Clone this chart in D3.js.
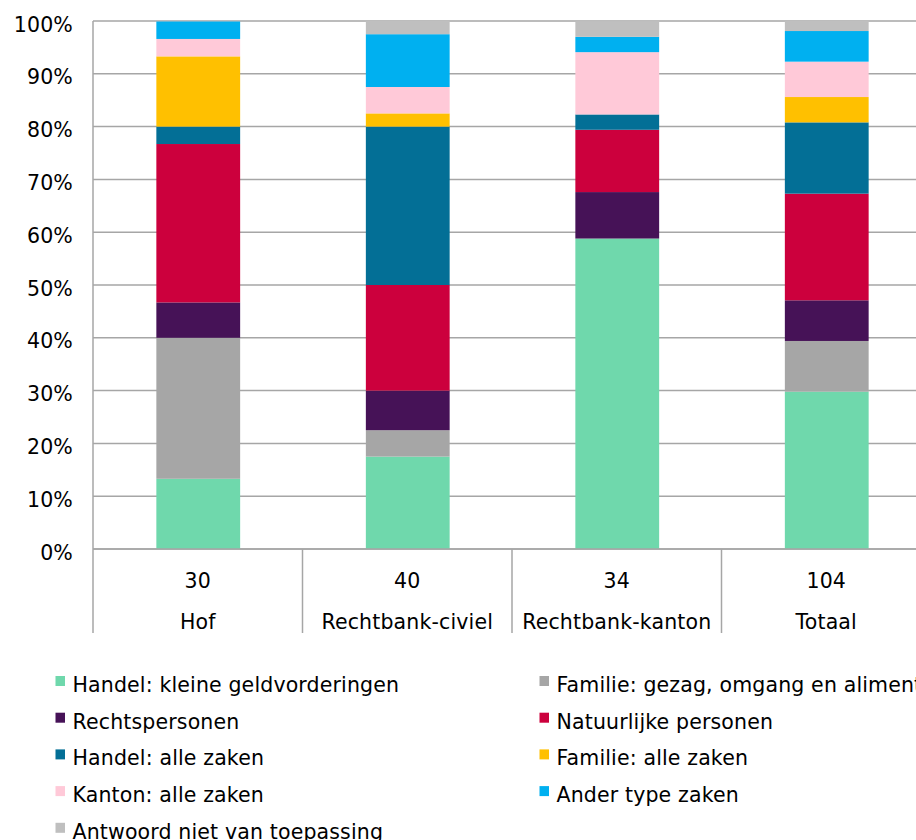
<!DOCTYPE html>
<html><head><meta charset="utf-8">
<script src="https://cdn.jsdelivr.net/npm/d3@7"></script>
<style>body{margin:0;background:#fff}svg{display:block}text{font-family:"DejaVu Sans",Verdana,sans-serif;fill:#000;letter-spacing:0.15px}</style>
</head><body><svg id="c" width="916" height="840"></svg>
<script>
const categories = ["Hof","Rechtbank-civiel","Rechtbank-kanton","Totaal"];
const counts = ["30","40","34","104"];
const seriesNames = ["Handel: kleine geldvorderingen","Familie: gezag, omgang en alimentatie","Rechtspersonen","Natuurlijke personen","Handel: alle zaken","Familie: alle zaken","Kanton: alle zaken","Ander type zaken","Antwoord niet van toepassing"];
const seriesColors = ["#6fd8ac","#a6a6a6","#461257","#cc003d","#036f96","#ffc000","#ffc9d8","#00b0f0","#bfbfbf"];
// percentage values per series, order matches categories
const handelKlein   = [13.3, 17.5, 58.8, 29.8];
const familieGezag  = [26.7,  5.0,  0.0,  9.6];
const rechtspersonen= [ 6.7,  7.5,  8.8,  7.7];
const natuurlijk    = [30.0, 20.0, 11.8, 20.2];
const handelAlle    = [ 3.3, 30.0,  2.9, 13.5];
const familieAlle   = [13.3,  2.5,  0.0,  4.8];
const kantonAlle    = [ 3.3,  5.0, 11.8,  6.7];
const anderType     = [ 3.3, 10.0,  2.9,  5.8];
const nietVanToep   = [ 0.0,  2.5,  2.9,  1.9];
const seriesValues = [handelKlein,familieGezag,rechtspersonen,natuurlijk,handelAlle,familieAlle,kantonAlle,anderType,nietVanToep];
const yTicks = [0,10,20,30,40,50,60,70,80,90,100];

const FS = 20.5;
const svg = d3.select("#c");
const mLeft = 93, mTop = 21, mBottom = 549, mRight = 931;
const x = d3.scaleBand().domain(categories).range([mLeft, mRight]).padding(0);
const y = d3.scaleLinear().domain([0,100]).range([mBottom, mTop]);
const gridColor = "#a6a6a6";

// gridlines
svg.append("g").selectAll("line").data(yTicks).join("line")
  .attr("x1", mLeft).attr("x2", mRight).attr("y1", d=>y(d)).attr("y2", d=>y(d))
  .attr("stroke", gridColor).attr("stroke-width", 1.5);

// y labels
svg.append("g").selectAll("text").data(yTicks).join("text")
  .attr("x", 73).attr("y", d=>y(d)+10.5).attr("text-anchor","end")
  .attr("font-size", FS).text(d=>d+"%");

// stacked data
const table = categories.map((c,i)=>{const o={cat:c}; seriesNames.forEach((s,j)=>o[s]=seriesValues[j][i]); return o;});
const stack = d3.stack().keys(seriesNames)(table);
const barW = x.bandwidth()*0.4;
svg.append("g").selectAll("g").data(stack).join("g")
  .attr("fill",(d,i)=>seriesColors[i])
  .selectAll("rect").data(d=>d).join("rect")
  .attr("x", d=>x(d.data.cat)+x.bandwidth()/2-barW/2+0.5)
  .attr("width", barW)
  .attr("y", d=>y(d[1]))
  .attr("height", d=>Math.max(0, y(d[0])-y(d[1])));

// axes lines
svg.append("line").attr("x1",mLeft).attr("x2",mLeft).attr("y1",mTop).attr("y2",633).attr("stroke",gridColor).attr("stroke-width",1.5);
svg.append("line").attr("x1",mLeft).attr("x2",mRight).attr("y1",mBottom).attr("y2",mBottom).attr("stroke",gridColor).attr("stroke-width",1.5);
svg.append("g").selectAll("line").data(categories.slice(1)).join("line")
  .attr("x1",d=>x(d)).attr("x2",d=>x(d)).attr("y1",mBottom).attr("y2",633)
  .attr("stroke",gridColor).attr("stroke-width",1.5);

// category labels
const xl = svg.append("g");
xl.selectAll("text.n").data(categories).join("text").attr("class","n")
  .attr("x",d=>x(d)+x.bandwidth()/2).attr("y",588).attr("text-anchor","middle").attr("font-size",FS)
  .text((d,i)=>counts[i]);
xl.selectAll("text.c").data(categories).join("text").attr("class","c")
  .attr("x",d=>x(d)+x.bandwidth()/2).attr("y",629).attr("text-anchor","middle").attr("font-size",FS)
  .text(d=>d);

// legend
const lg = svg.append("g");
seriesNames.forEach((s,i)=>{
  const col = i%2, row = Math.floor(i/2);
  const lx = col===0 ? 55.5 : 539.5, ly = 692 + row*36.7;
  lg.append("rect").attr("x",lx).attr("y",ly-16).attr("width",9.5).attr("height",10).attr("fill",seriesColors[i]);
  lg.append("text").attr("x",lx+17).attr("y",ly).attr("font-size",FS).text(s);
});
</script></body></html>
